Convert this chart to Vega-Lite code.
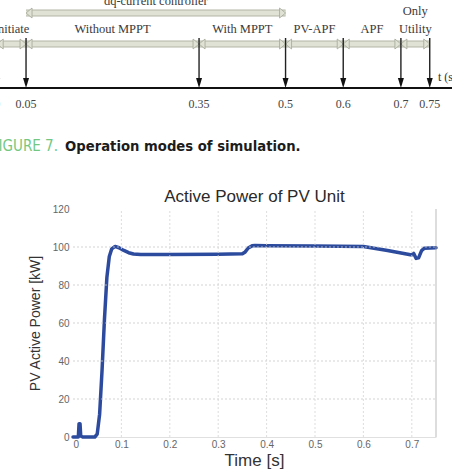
{
"$schema": "https://vega.github.io/schema/vega-lite/v6.json",
"width": 452, "height": 476, "padding": 0,
"autosize": {"type": "none"},
"background": "white",
"config": {"view": {"stroke": null}},
"datasets": {
  "modes": [
    {"label": "Initiate", "start": 0, "end": 0.05},
    {"label": "Without MPPT", "start": 0.05, "end": 0.35},
    {"label": "With MPPT", "start": 0.35, "end": 0.5},
    {"label": "PV-APF", "start": 0.5, "end": 0.6},
    {"label": "APF", "start": 0.6, "end": 0.7},
    {"label": "Only\nUtility", "start": 0.7, "end": 0.75}
  ],
  "controller": [{"label": "dq-current controller", "start": 0.05, "end": 0.5}],
  "instants": [
    {"t": 0, "label": "0"}, {"t": 0.05, "label": "0.05"}, {"t": 0.35, "label": "0.35"},
    {"t": 0.5, "label": "0.5"}, {"t": 0.6, "label": "0.6"}, {"t": 0.7, "label": "0.7"}, {"t": 0.75, "label": "0.75"}
  ],
  "pv": [
    {"t": 0, "p": 0}, {"t": 0.011, "p": 0}, {"t": 0.0125, "p": 7}, {"t": 0.0145, "p": 7}, {"t": 0.016, "p": 0.5},
    {"t": 0.02, "p": 0}, {"t": 0.045, "p": 0}, {"t": 0.05, "p": 1.5}, {"t": 0.055, "p": 12}, {"t": 0.06, "p": 35},
    {"t": 0.065, "p": 62}, {"t": 0.07, "p": 84}, {"t": 0.075, "p": 95}, {"t": 0.08, "p": 99}, {"t": 0.087, "p": 100.3},
    {"t": 0.095, "p": 99.6}, {"t": 0.105, "p": 98.2}, {"t": 0.115, "p": 97}, {"t": 0.125, "p": 96.3}, {"t": 0.14, "p": 96},
    {"t": 0.2, "p": 96}, {"t": 0.3, "p": 96.2}, {"t": 0.35, "p": 96.4}, {"t": 0.355, "p": 97.2}, {"t": 0.362, "p": 99.5},
    {"t": 0.37, "p": 100.6}, {"t": 0.376, "p": 100.8}, {"t": 0.4, "p": 100.7}, {"t": 0.5, "p": 100.5}, {"t": 0.6, "p": 100.3},
    {"t": 0.65, "p": 98.2}, {"t": 0.7, "p": 95.8}, {"t": 0.704, "p": 96.6}, {"t": 0.709, "p": 94}, {"t": 0.714, "p": 94.3},
    {"t": 0.72, "p": 98}, {"t": 0.726, "p": 99.4}, {"t": 0.75, "p": 99.6}
  ],
  "xgrid": [{"v": 0.1}, {"v": 0.2}, {"v": 0.3}, {"v": 0.4}, {"v": 0.5}, {"v": 0.6}, {"v": 0.7}],
  "ygrid": [{"v": 20}, {"v": 40}, {"v": 60}, {"v": 80}, {"v": 100}]
},
"layer": [
  {
    "data": {"name": "pv"},
    "mark": {"type": "line", "color": "#2d4b9e", "strokeWidth": 3.5, "strokeJoin": "round", "strokeCap": "round"},
    "encoding": {
      "x": {"field": "t", "type": "quantitative", "scale": {"domain": [0, 0.75], "range": [73, 436], "nice": false, "zero": false},
        "axis": {"orient": "bottom", "offset": -39, "values": [0, 0.1, 0.2, 0.3, 0.4, 0.5, 0.6, 0.7], "format": "~f", "grid": false, "ticks": false, "domain": true, "domainColor": "#d8d8d8", "domainWidth": 0.8,
          "labelFont": "Liberation Sans", "labelFontSize": 10, "labelColor": "#666", "labelPadding": 2,
          "title": "Time [s]", "titleFont": "Liberation Sans", "titleFontSize": 17, "titleFontWeight": "normal", "titleColor": "#333", "titleX": 254, "titleY": 23, "titleBaseline": "middle", "titleAlign": "center"}},
      "y": {"field": "p", "type": "quantitative", "scale": {"domain": [0, 120], "range": [437, 209], "nice": false},
        "axis": {"orient": "left", "offset": -73, "values": [0, 20, 40, 60, 80, 100, 120], "grid": false, "ticks": false, "domain": false,
          "labelFont": "Liberation Sans", "labelFontSize": 10, "labelColor": "#666", "labelPadding": 4,
          "title": "PV Active Power [kW]", "titleFont": "Liberation Sans", "titleFontSize": 14, "titleFontWeight": "normal", "titleColor": "#333", "titleX": -38, "titleY": 323, "titleBaseline": "middle", "titleAlign": "center", "titleAngle": -90}}
    }
  },
  {
    "data": {"name": "ygrid"},
    "mark": {"type": "rule", "color": "#c8c8c8", "strokeWidth": 0.8, "strokeDash": [2, 2]},
    "encoding": {
      "x": {"datum": 0, "type": "quantitative", "scale": {"domain": [0, 0.75], "range": [73, 436], "nice": false, "zero": false}, "axis": null},
      "x2": {"datum": 0.75},
      "y": {"field": "v", "type": "quantitative", "scale": {"domain": [0, 120], "range": [437, 209], "nice": false}, "axis": null}
    }
  },
  {
    "data": {"name": "xgrid"},
    "mark": {"type": "rule", "color": "#d4d4d4", "strokeWidth": 0.8, "strokeDash": [2, 2]},
    "encoding": {
      "x": {"field": "v", "type": "quantitative", "scale": {"domain": [0, 0.75], "range": [73, 436], "nice": false, "zero": false}, "axis": null},
      "y": {"datum": 0, "type": "quantitative", "scale": {"domain": [0, 120], "range": [437, 209], "nice": false}, "axis": null},
      "y2": {"datum": 120}
    }
  },
  {
    "data": {"values": [{"edge": 0.75}]},
    "mark": {"type": "rule", "color": "#aaaaaa", "strokeWidth": 0.8},
    "encoding": {
      "x": {"field": "edge", "type": "quantitative", "scale": {"domain": [0, 0.75], "range": [73, 436], "nice": false, "zero": false}, "axis": null},
      "y": {"datum": 0, "type": "quantitative", "scale": {"domain": [0, 120], "range": [437, 209], "nice": false}, "axis": null},
      "y2": {"datum": 120}
    }
  },
  {
    "data": {"values": [{"title": "Active Power of PV Unit"}]},
    "mark": {"type": "text", "font": "Liberation Sans", "fontSize": 17, "color": "#2a2a2a", "baseline": "middle", "align": "center"},
    "encoding": {
      "x": {"datum": 0.375, "type": "quantitative", "scale": {"domain": [0, 0.75], "range": [73, 436], "nice": false, "zero": false}, "axis": null},
      "y": {"datum": 126.5, "type": "quantitative", "scale": {"domain": [0, 120], "range": [437, 209], "nice": false}, "axis": null},
      "text": {"field": "title"}
    }
  },
  {
    "data": {"name": "instants"},
    "mark": {"type": "rule", "color": "#111", "strokeWidth": 2},
    "encoding": {
      "x": {"datum": -0.02, "type": "quantitative", "scale": {"domain": [0.00486, 0.7886], "nice": false, "zero": false}, "axis": null},
      "x2": {"datum": 0.8},
      "y": {"datum": 88, "type": "quantitative", "scale": {"domain": [0, 476], "reverse": true, "nice": false, "zero": false}, "axis": null}
    }
  },
  {
    "data": {"name": "modes"},
    "mark": {"type": "rule", "color": "#b3b6a6", "strokeWidth": 7},
    "encoding": {
      "x": {"field": "start", "type": "quantitative", "scale": {"domain": [0.00486, 0.7886], "nice": false, "zero": false}, "axis": null},
      "x2": {"field": "end"},
      "y": {"datum": 44, "type": "quantitative", "scale": {"domain": [0, 476], "reverse": true, "nice": false, "zero": false}, "axis": null}
    }
  },
  {
    "data": {"name": "modes"},
    "mark": {"type": "rule", "color": "#dfe2d4", "strokeWidth": 5},
    "encoding": {
      "x": {"field": "start", "type": "quantitative", "scale": {"domain": [0.00486, 0.7886], "nice": false, "zero": false}, "axis": null},
      "x2": {"field": "end"},
      "y": {"datum": 44, "type": "quantitative", "scale": {"domain": [0, 476], "reverse": true, "nice": false, "zero": false}, "axis": null}
    }
  },
  {
    "data": {"name": "modes"},
    "mark": {"type": "point", "shape": "M0,0L1.2,-1L1.2,1Z", "size": 100, "filled": true, "fill": "#dfe2d4", "stroke": "#a5a898", "strokeWidth": 0.8, "opacity": 1},
    "encoding": {
      "x": {"field": "start", "type": "quantitative", "scale": {"domain": [0.00486, 0.7886], "nice": false, "zero": false}, "axis": null},
      "y": {"datum": 44, "type": "quantitative", "scale": {"domain": [0, 476], "reverse": true, "nice": false, "zero": false}, "axis": null}
    }
  },
  {
    "data": {"name": "modes"},
    "mark": {"type": "point", "shape": "M0,0L-1.2,-1L-1.2,1Z", "size": 100, "filled": true, "fill": "#dfe2d4", "stroke": "#a5a898", "strokeWidth": 0.8, "opacity": 1},
    "encoding": {
      "x": {"field": "end", "type": "quantitative", "scale": {"domain": [0.00486, 0.7886], "nice": false, "zero": false}, "axis": null},
      "y": {"datum": 44, "type": "quantitative", "scale": {"domain": [0, 476], "reverse": true, "nice": false, "zero": false}, "axis": null}
    }
  },
  {
    "data": {"name": "instants"},
    "mark": {"type": "rule", "color": "#222", "strokeWidth": 1.4},
    "encoding": {
      "x": {"field": "t", "type": "quantitative", "scale": {"domain": [0.00486, 0.7886], "nice": false, "zero": false}, "axis": null},
      "y": {"datum": 38, "type": "quantitative", "scale": {"domain": [0, 476], "reverse": true, "nice": false, "zero": false}, "axis": null},
      "y2": {"datum": 80}
    }
  },
  {
    "data": {"name": "instants"},
    "mark": {"type": "point", "shape": "M-0.6,-2L0.6,-2L0,0Z", "size": 100, "filled": true, "color": "#111", "opacity": 1},
    "encoding": {
      "x": {"field": "t", "type": "quantitative", "scale": {"domain": [0.00486, 0.7886], "nice": false, "zero": false}, "axis": null},
      "y": {"datum": 88, "type": "quantitative", "scale": {"domain": [0, 476], "reverse": true, "nice": false, "zero": false}, "axis": null}
    }
  },
  {
    "data": {"name": "instants"},
    "mark": {"type": "text", "font": "Liberation Serif", "fontSize": 12, "color": "#444", "baseline": "alphabetic", "align": "center"},
    "encoding": {
      "x": {"field": "t", "type": "quantitative", "scale": {"domain": [0.00486, 0.7886], "nice": false, "zero": false}, "axis": null},
      "y": {"datum": 108, "type": "quantitative", "scale": {"domain": [0, 476], "reverse": true, "nice": false, "zero": false}, "axis": null},
      "text": {"field": "label"}
    }
  },
  {
    "data": {"name": "modes"},
    "transform": [{"filter": "indexof(datum.label, '\\n') < 0"}, {"fold": ["start", "end"], "as": ["edge", "t"]}],
    "mark": {"type": "text", "font": "Liberation Serif", "fontSize": 12.5, "color": "#3a3a3a", "baseline": "alphabetic", "align": "center"},
    "encoding": {
      "x": {"aggregate": "mean", "field": "t", "type": "quantitative", "scale": {"domain": [0.00486, 0.7886], "nice": false, "zero": false}, "axis": null},
      "y": {"datum": 33, "type": "quantitative", "scale": {"domain": [0, 476], "reverse": true, "nice": false, "zero": false}, "axis": null},
      "text": {"field": "label"}
    }
  },
  {
    "data": {"name": "modes"},
    "transform": [{"filter": "indexof(datum.label, '\\n') >= 0"}, {"fold": ["start", "end"], "as": ["edge", "t"]}],
    "mark": {"type": "text", "font": "Liberation Serif", "fontSize": 12.5, "color": "#3a3a3a", "baseline": "alphabetic", "align": "center", "lineBreak": "\n", "lineHeight": 18},
    "encoding": {
      "x": {"aggregate": "mean", "field": "t", "type": "quantitative", "scale": {"domain": [0.00486, 0.7886], "nice": false, "zero": false}, "axis": null},
      "y": {"datum": 15, "type": "quantitative", "scale": {"domain": [0, 476], "reverse": true, "nice": false, "zero": false}, "axis": null},
      "text": {"field": "label"}
    }
  },
  {
    "data": {"name": "controller"},
    "mark": {"type": "rule", "color": "#b3b6a6", "strokeWidth": 7},
    "encoding": {
      "x": {"field": "start", "type": "quantitative", "scale": {"domain": [0.00486, 0.7886], "nice": false, "zero": false}, "axis": null},
      "x2": {"field": "end"},
      "y": {"datum": 13, "type": "quantitative", "scale": {"domain": [0, 476], "reverse": true, "nice": false, "zero": false}, "axis": null}
    }
  },
  {
    "data": {"name": "controller"},
    "mark": {"type": "rule", "color": "#dfe2d4", "strokeWidth": 5},
    "encoding": {
      "x": {"field": "start", "type": "quantitative", "scale": {"domain": [0.00486, 0.7886], "nice": false, "zero": false}, "axis": null},
      "x2": {"field": "end"},
      "y": {"datum": 13, "type": "quantitative", "scale": {"domain": [0, 476], "reverse": true, "nice": false, "zero": false}, "axis": null}
    }
  },
  {
    "data": {"name": "controller"},
    "mark": {"type": "point", "shape": "M0,0L1.2,-1L1.2,1Z", "size": 100, "filled": true, "fill": "#dfe2d4", "stroke": "#a5a898", "strokeWidth": 0.8, "opacity": 1},
    "encoding": {
      "x": {"field": "start", "type": "quantitative", "scale": {"domain": [0.00486, 0.7886], "nice": false, "zero": false}, "axis": null},
      "y": {"datum": 13, "type": "quantitative", "scale": {"domain": [0, 476], "reverse": true, "nice": false, "zero": false}, "axis": null}
    }
  },
  {
    "data": {"name": "controller"},
    "mark": {"type": "point", "shape": "M0,0L-1.2,-1L-1.2,1Z", "size": 100, "filled": true, "fill": "#dfe2d4", "stroke": "#a5a898", "strokeWidth": 0.8, "opacity": 1},
    "encoding": {
      "x": {"field": "end", "type": "quantitative", "scale": {"domain": [0.00486, 0.7886], "nice": false, "zero": false}, "axis": null},
      "y": {"datum": 13, "type": "quantitative", "scale": {"domain": [0, 476], "reverse": true, "nice": false, "zero": false}, "axis": null}
    }
  },
  {
    "data": {"name": "controller"},
    "transform": [{"fold": ["start", "end"], "as": ["edge", "t"]}],
    "mark": {"type": "text", "font": "Liberation Serif", "fontSize": 12.5, "color": "#3a3a3a", "baseline": "alphabetic", "align": "center"},
    "encoding": {
      "x": {"aggregate": "mean", "field": "t", "type": "quantitative", "scale": {"domain": [0.00486, 0.7886], "nice": false, "zero": false}, "axis": null},
      "y": {"datum": 5, "type": "quantitative", "scale": {"domain": [0, 476], "reverse": true, "nice": false, "zero": false}, "axis": null},
      "text": {"field": "label"}
    }
  },
  {
    "data": {"values": [{"text": "t (s)"}]},
    "mark": {"type": "text", "font": "Liberation Serif", "fontSize": 12, "color": "#333", "baseline": "alphabetic", "align": "left"},
    "encoding": {
      "x": {"datum": 0.7643, "type": "quantitative", "scale": {"domain": [0.00486, 0.7886], "nice": false, "zero": false}, "axis": null},
      "y": {"datum": 81, "type": "quantitative", "scale": {"domain": [0, 476], "reverse": true, "nice": false, "zero": false}, "axis": null},
      "text": {"field": "text"}
    }
  },
  {
    "data": {"values": [{"text": "FIGURE 7."}]},
    "mark": {"type": "text", "font": "Liberation Sans Narrow, DejaVu Sans Condensed, sans-serif", "fontSize": 15, "color": "#72c882", "baseline": "alphabetic", "align": "right"},
    "encoding": {
      "x": {"datum": 0.1054, "type": "quantitative", "scale": {"domain": [0.00486, 0.7886], "nice": false, "zero": false}, "axis": null},
      "y": {"datum": 151, "type": "quantitative", "scale": {"domain": [0, 476], "reverse": true, "nice": false, "zero": false}, "axis": null},
      "text": {"field": "text"}
    }
  },
  {
    "data": {"values": [{"text": "Operation modes of simulation."}]},
    "mark": {"type": "text", "font": "Liberation Sans Narrow, DejaVu Sans Condensed, sans-serif", "fontSize": 14.7, "fontWeight": "bold", "color": "#1c1c1c", "baseline": "alphabetic", "align": "left"},
    "encoding": {
      "x": {"datum": 0.1176, "type": "quantitative", "scale": {"domain": [0.00486, 0.7886], "nice": false, "zero": false}, "axis": null},
      "y": {"datum": 151, "type": "quantitative", "scale": {"domain": [0, 476], "reverse": true, "nice": false, "zero": false}, "axis": null},
      "text": {"field": "text"}
    }
  }
],
"resolve": {"scale": {"x": "independent", "y": "independent"}, "axis": {"x": "independent", "y": "independent"}}
}
